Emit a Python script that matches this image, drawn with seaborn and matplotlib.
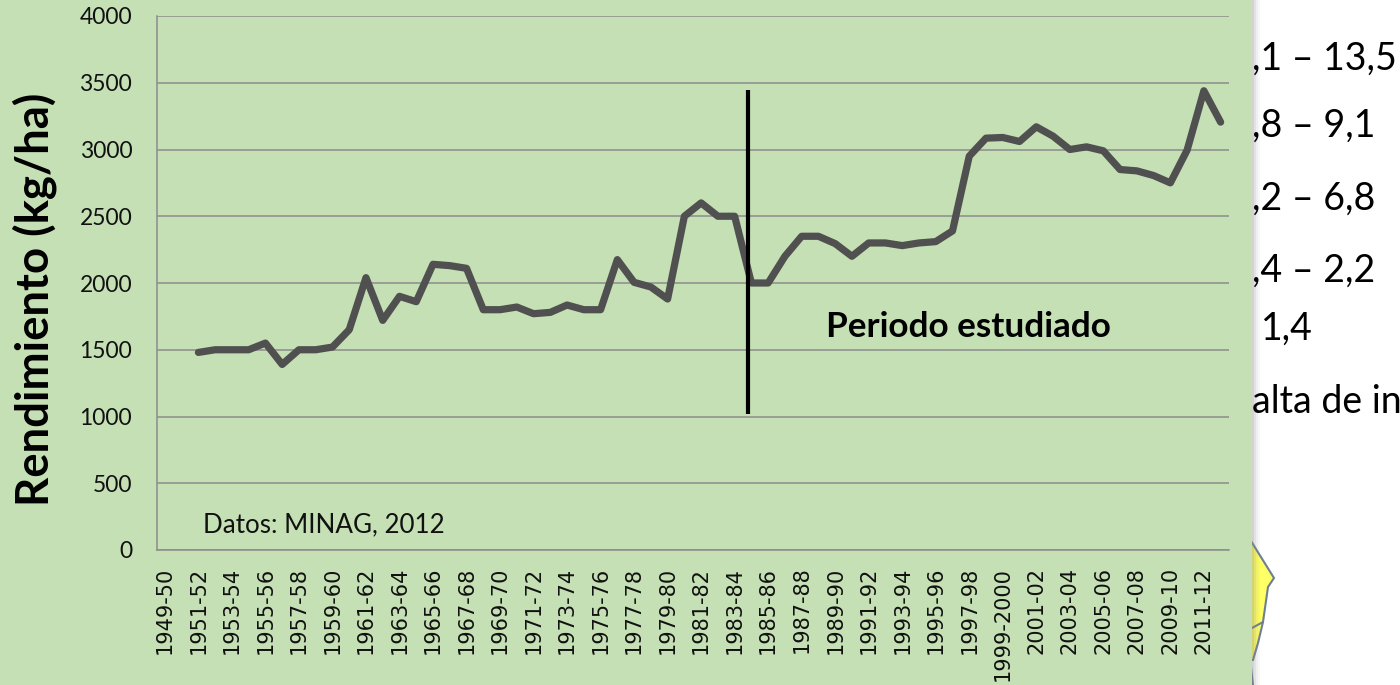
import numpy as np
import pandas as pd
import matplotlib
matplotlib.use('Agg')
import matplotlib.pyplot as plt
from matplotlib.patches import Rectangle, Polygon
import seaborn as sns

W, H = 1400, 685

# campanas 1949-50 ... 2012-13
seasons = ['%d-%02d' % (y, (y + 1) % 100) for y in range(1949, 2013)]
seasons[50] = '1999-2000'

rendimiento = [np.nan, np.nan,
               1480, 1500, 1500, 1500, 1550, 1390, 1500, 1500,
               1520, 1650, 2040, 1720, 1900, 1860, 2140, 2130, 2110, 1800,
               1800, 1820, 1770, 1780, 1835, 1800, 1800, 2175, 2005, 1970,
               1880, 2500, 2600, 2500, 2500, 2000, 2000, 2200, 2350, 2350,
               2295, 2200, 2300, 2300, 2280, 2300, 2310, 2390, 2950, 3085,
               3090, 3060, 3170, 3100, 3000, 3020, 2990, 2850, 2840, 2805,
               2750, 2995, 3440, 3205]

y_ticks = [0, 500, 1000, 1500, 2000, 2500, 3000, 3500, 4000]
corte_x = 35.3 - 0.5
corte_y = [1019, 3446]

right_texts = [(',1 – 13,5', 1252, 59), (',8 – 9,1', 1252, 126), (',2 – 6,8', 1252, 199),
               (',4 – 2,2', 1252, 271), ('1,4', 1261, 329), ('alta de in', 1252, 402)]

sns.set_theme(style='white')
plt.rcParams['font.family'] = ['Lato', 'DejaVu Sans']

df = pd.DataFrame({'pos': np.arange(len(seasons)), 'rend': rendimiento})

fig = plt.figure(figsize=(W / 100, H / 100), dpi=100)
fig.patch.set_facecolor('white')

# mapa que asoma por detras del panel
map_col = '#FFFF66'
map_edge = '#6E7F95'
map_a = [(1240, 530), (1251, 541), (1274, 578), (1268, 587), (1263, 622),
         (1258, 643), (1253, 660), (1240, 660)]
map_b = [(1240, 665), (1251, 667), (1253, 685), (1240, 685)]
for pts in [map_a, map_b]:
    fig.add_artist(Polygon([(x, H - y) for x, y in pts], closed=True, transform=None,
                           fc=map_col, ec=map_edge, lw=1.5, zorder=-5))
fig.add_artist(plt.Line2D([1252, 1263], [H - 628, H - 622], transform=None, color=map_edge, lw=1.5, zorder=-5))

# panel verde con sombra
for i, al in enumerate([0.05, 0.08, 0.12, 0.16]):
    fig.add_artist(Rectangle((1252 / W, 0), (8 - 2 * i) / W, 1, transform=fig.transFigure,
                             fc='#888888', ec='none', alpha=al, zorder=-3))
fig.add_artist(Rectangle((0, 0), 1252 / W, 1, transform=fig.transFigure, fc='#C5E0B4', ec='none', zorder=-2))

ax = fig.add_axes([156.5 / W, 1 - 550 / H, (1229 - 156.5) / W, (550 - 16) / H])
ax.patch.set_alpha(0)

sns.lineplot(data=df, x='pos', y='rend', ax=ax, color='#505050', linewidth=5.2,
             solid_capstyle='round', solid_joinstyle='round', zorder=3)
ax.plot([corte_x, corte_x], corte_y, color='black', lw=3, zorder=4, solid_capstyle='butt')

ax.set_xlim(-0.5, 63.5)
ax.set_ylim(0, 4000)
ax.set_xlabel('')
ax.set_ylabel('Rendimiento (kg/ha)', fontsize=32.8, fontweight='bold', color='black', labelpad=0)
ax.yaxis.set_label_coords(-99 / (1229 - 156.5), 0.47)

ax.set_yticks(y_ticks)
ax.set_yticklabels([str(v) for v in y_ticks], fontsize=16.5, color='#111111')
ax.set_xticks(np.arange(0, 64, 2))
ax.set_xticklabels(seasons[::2], rotation=90, fontsize=15, family=['DejaVu Sans'], color='#111111')
ax.set_xticks(np.arange(-0.5, 64, 2), minor=True)
ax.tick_params(axis='x', which='major', length=0, pad=12)
ax.tick_params(axis='x', which='minor', length=6, width=1, color='#8C8C8C')
ax.tick_params(axis='y', length=6.5, width=1, color='#8C8C8C', pad=11)
ax.grid(axis='y', color='#8C8C8C', lw=1.1)
ax.set_axisbelow(True)
sns.despine(ax=ax, top=True, right=True)
for s in ['left', 'bottom']:
    ax.spines[s].set_color('#8C8C8C')
    ax.spines[s].set_linewidth(1.1)

fig.text(826 / W, 1 - 327 / H, 'Periodo estudiado', fontsize=25.3, fontweight='bold', color='black', va='center')
fig.text(203 / W, 1 - 525 / H, 'Datos: MINAG, 2012', fontsize=18.7, color='#111111', va='center')

for txt, x, y in right_texts:
    fig.text(x / W, 1 - y / H, txt, fontsize=27, color='black', va='center')

fig.savefig('out.png', dpi=100)
